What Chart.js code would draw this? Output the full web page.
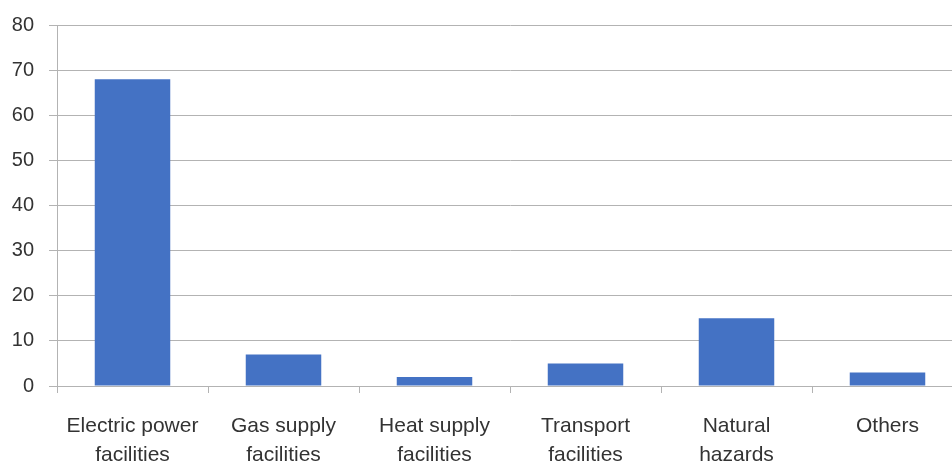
<!DOCTYPE html>
<html>
<head>
<meta charset="utf-8">
<script src="https://cdn.jsdelivr.net/npm/chart.js@4/dist/chart.umd.min.js"></script>
<style>
  html, body { margin: 0; padding: 0; background: #fff; overflow: hidden; }
  #wrap { width: 970px; height: 466px; }
</style>
</head>
<body>
<div id="wrap"><canvas id="myChart" width="970" height="466"></canvas></div>
<script>
const categories = [
  ["Electric power", "facilities"],
  ["Gas supply", "facilities"],
  ["Heat supply", "facilities"],
  ["Transport", "facilities"],
  ["Natural", "hazards"],
  "Others"
];
const values = [68, 7, 2, 5, 15, 3];
const yTicks = [0, 10, 20, 30, 40, 50, 60, 70, 80];

const gridColor = "#b3b3b3";
const textColor = "#333333";
const family = "'Liberation Sans', Arial, sans-serif";

const data = {
  labels: categories,
  datasets: [
    {
      data: values,
      backgroundColor: "#4472C4",
      borderWidth: 0,
      barPercentage: 0.5,
      categoryPercentage: 1,
    },
  ],
};

const config = {
  type: "bar",
  data: data,
  options: {
    responsive: false,
    animation: false,
    devicePixelRatio: 1,
    layout: { padding: { top: 25, right: 7, left: 0, bottom: 0 } },
    plugins: { legend: { display: false }, tooltip: { enabled: false } },
    scales: {
      x: {
        offset: true,
        grid: {
          display: true,
          offset: true,
          drawOnChartArea: false,
          drawTicks: true,
          tickLength: 7,
          color: gridColor,
        },
        border: { display: true, color: gridColor, width: 1 },
        ticks: {
          color: textColor,
          font: { family: family, size: 21, lineHeight: 1.38 },
          padding: 19,
          maxRotation: 0,
          autoSkip: false,
        },
        afterFit: (scale) => { scale.height = 80; scale.paddingLeft = 0; scale.paddingRight = 0; },
      },
      y: {
        min: 0,
        max: 80,
        afterBuildTicks: (scale) => { scale.ticks = yTicks.map(v => ({ value: v })); },
        grid: { color: gridColor, tickLength: 8, lineWidth: 1 },
        border: { display: true, color: gridColor, width: 1 },
        ticks: { color: textColor, font: { family: family, size: 20 }, padding: 15 },
        afterFit: (scale) => { scale.width = 57; scale.paddingTop = 0; scale.paddingBottom = 0; },
      },
    },
  },
};

const myChart = new Chart(document.getElementById("myChart"), config);
</script>
</body>
</html>
